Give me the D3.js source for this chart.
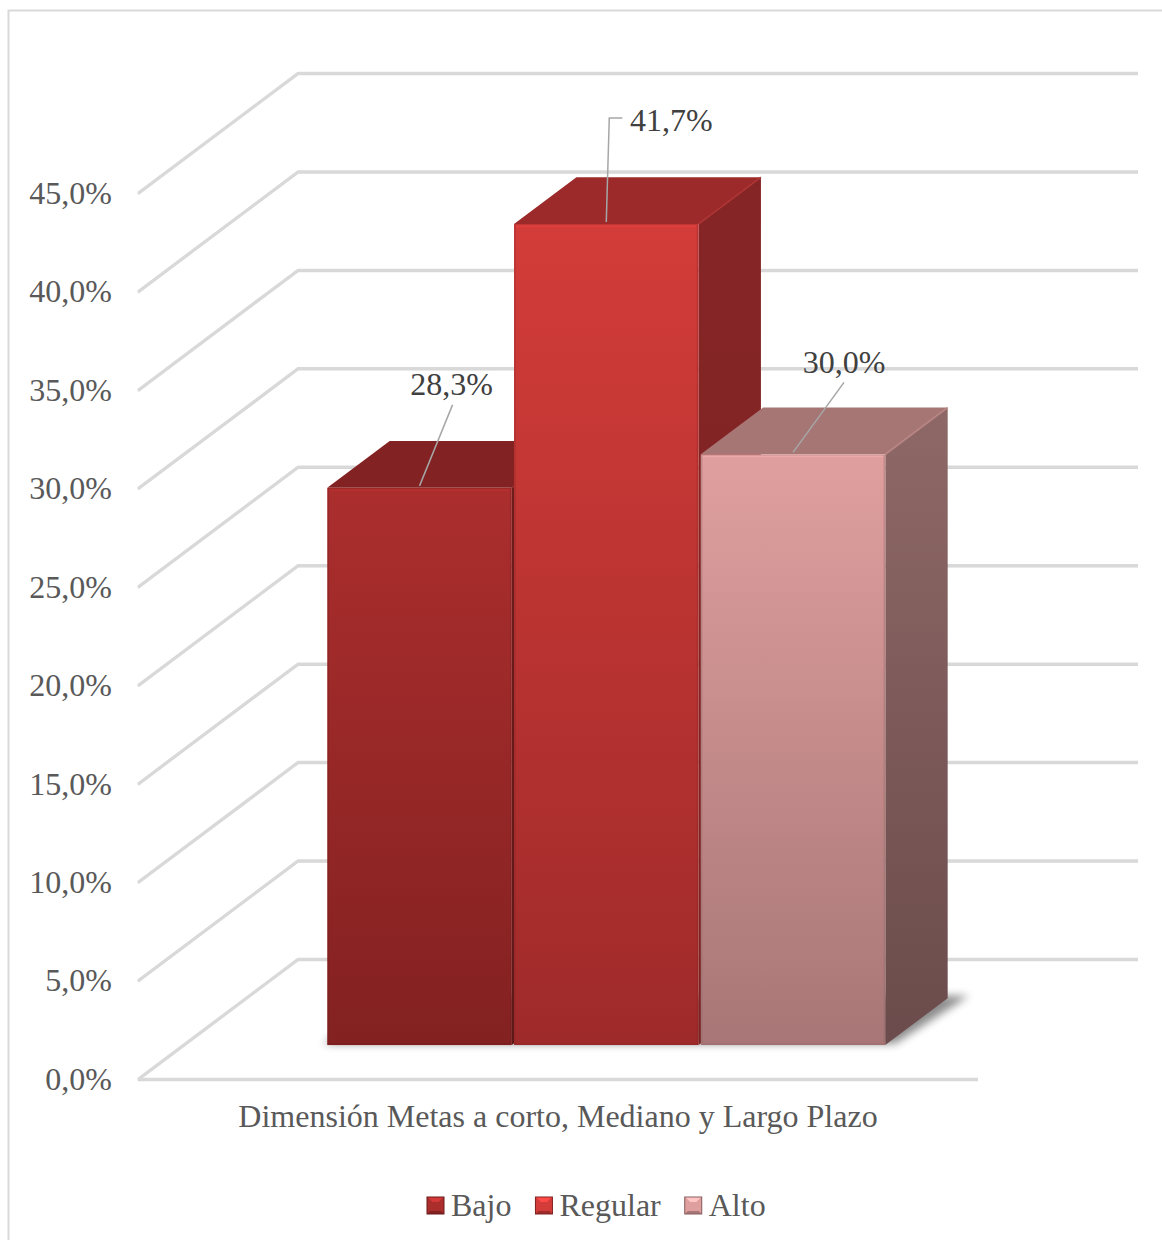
<!DOCTYPE html>
<html>
<head>
<meta charset="utf-8">
<script src="https://cdn.jsdelivr.net/npm/d3@7/dist/d3.min.js"></script>
<style>
  html, body { margin: 0; padding: 0; background: #ffffff; }
  svg { display: block; }
  text { font-family: "Liberation Serif", "Times New Roman", serif; }
</style>
</head>
<body>
<svg id="chart" width="1162" height="1240"></svg>
<script>
// ---------------- DATA ----------------
const category = "Dimensión Metas a corto, Mediano y Largo Plazo";
const series = ["Bajo", "Regular", "Alto"];
const values = [0.283, 0.417, 0.300];
const yTicks = [0, 0.05, 0.10, 0.15, 0.20, 0.25, 0.30, 0.35, 0.40, 0.45];

// ---------------- STYLE / LAYOUT ----------------
const palette = {
  Bajo:    { frontTop: "#ab2e2d", frontBot: "#832121", top: "#832222", sideTop: "#6f1c1c", sideBot: "#5e1818" },
  Regular: { frontTop: "#d33c39", frontBot: "#9f2a2a", top: "#9c2a2a", sideTop: "#862526", sideBot: "#7a2222" },
  Alto:    { frontTop: "#e09f9f", frontBot: "#a87676", top: "#a67675", sideTop: "#8e6867", sideBot: "#6b4b4b" }
};
const labelOffsets = [ // label centre & leader, relative to bar top-front centre
  { lx: 32, ly: -104, path: [[0, -2], [33, -83]] },
  { lx: 65, ly: -104, path: [[0, -2], [3, -106], [16, -106]] },
  { lx: 51, ly: -92,  path: [[0, -2], [51, -72]] }
];
const FS = 32;

const svg = d3.select("#chart");
const fmt = d3.formatLocale({ decimal: ",", thousands: ".", grouping: [3], currency: ["", ""] }).format(".1%");

// outer border
svg.append("rect").attr("x", 8.5).attr("y", 10.5).attr("width", 1180).attr("height", 1260)
  .attr("fill", "none").attr("stroke", "#d9d9d9").attr("stroke-width", 2);

// 3D geometry
const x0 = 138, x1 = 978;       // front plane x extent
const DX = 160, DY = 120;       // depth offset (front -> back)
const y = d3.scaleLinear().domain([0, 0.45]).range([1079, 193]);
const P = (x, v, d) => [x + d * DX, y(v) - d * DY];

const dFront = 0.283, dBack = 0.673;
const xb = d3.scaleBand().domain(series).range([282, 840]).paddingInner(0.012);

const defs = svg.append("defs");
series.forEach((s, i) => {
  const c = palette[s];
  const gf = defs.append("linearGradient").attr("id", "gf" + i).attr("x1", 0).attr("y1", 0).attr("x2", 0).attr("y2", 1);
  gf.append("stop").attr("offset", 0).attr("stop-color", c.frontTop);
  gf.append("stop").attr("offset", 1).attr("stop-color", c.frontBot);
  const gs = defs.append("linearGradient").attr("id", "gs" + i).attr("x1", 0).attr("y1", 0).attr("x2", 0).attr("y2", 1);
  gs.append("stop").attr("offset", 0).attr("stop-color", c.sideTop);
  gs.append("stop").attr("offset", 1).attr("stop-color", c.sideBot);
});
const blur = defs.append("filter").attr("id", "blur").attr("x", "-20%").attr("y", "-20%").attr("width", "140%").attr("height", "140%");
blur.append("feGaussianBlur").attr("stdDeviation", 4);
const lineShadow = defs.append("filter").attr("id", "lshadow")
  .attr("filterUnits", "userSpaceOnUse").attr("x", 0).attr("y", 0).attr("width", 1162).attr("height", 1240);
lineShadow.append("feDropShadow").attr("dx", 0).attr("dy", 1).attr("stdDeviation", 0.6).attr("flood-color", "#bbbbbb").attr("flood-opacity", 0.6);

// gridlines
const grid = svg.append("g");
yTicks.forEach(t => {
  const a = P(x0, t, 0), b = P(x0, t, 1), c = P(x1, t, 1);
  grid.append("path").attr("d", d3.line()([a, b, c]))
    .attr("fill", "none").attr("stroke", "#d9d9d9").attr("stroke-width", 2.5)
    .attr("stroke-linejoin", "round").attr("filter", "url(#lshadow)");
});
// floor front edge
grid.append("path").attr("d", d3.line()([P(x0, 0, 0), P(x1, 0, 0)]))
  .attr("fill", "none").attr("stroke", "#d9d9d9").attr("stroke-width", 2.5).attr("filter", "url(#lshadow)");

// y axis labels
svg.append("g").selectAll("text").data(yTicks).join("text")
  .attr("x", 112).attr("y", d => y(d)).attr("dy", "0.34em")
  .attr("text-anchor", "end").attr("font-size", FS).attr("fill", "#595959")
  .text(d => fmt(d));

// floor shadow of bars
const fx0 = xb(series[0]) - 6, fx1 = xb(series[series.length - 1]) + xb.bandwidth() + 8;
svg.append("path")
  .attr("d", d3.line()([P(fx0, 0, dFront + 0.01), P(fx1, 0, dFront + 0.01), P(fx1 + 10, 0, dBack + 0.02), P(fx0 + 10, 0, dBack + 0.02)]) + "Z")
  .attr("fill", "#000").attr("opacity", 0.45).attr("filter", "url(#blur)");

// bars
const bars = svg.append("g");
series.forEach((s, i) => {
  const v = values[i];
  const xa = xb(s), xc = xa + xb.bandwidth();
  const c = palette[s];
  const g = bars.append("g");
  g.append("path").attr("d", d3.line()([P(xc, 0, dFront), P(xc, 0, dBack), P(xc, v, dBack), P(xc, v, dFront)]) + "Z")
    .attr("fill", `url(#gs${i})`);
  g.append("path").attr("d", d3.line()([P(xa, v, dFront), P(xa, v, dBack), P(xc, v, dBack), P(xc, v, dFront)]) + "Z")
    .attr("fill", c.top);
  g.append("path").attr("d", d3.line()([P(xc, v, dFront), P(xc, v, dBack)]))
    .attr("stroke", d3.color(c.top).brighter(0.35)).attr("stroke-width", 2).attr("fill", "none").attr("opacity", 0.7);
  const fa = P(xa, v, dFront), fb = P(xc, 0, dFront);
  g.append("rect").attr("x", fa[0]).attr("y", fa[1]).attr("width", fb[0] - fa[0]).attr("height", fb[1] - fa[1])
    .attr("fill", `url(#gf${i})`);
  g.append("rect").attr("x", fa[0] + 1).attr("y", fa[1] + 1).attr("width", fb[0] - fa[0] - 2).attr("height", fb[1] - fa[1] - 2)
    .attr("fill", "none").attr("stroke", d3.color(c.frontBot).darker(0.4)).attr("stroke-width", 1.5).attr("opacity", 0.35);
  g.append("line").attr("x1", fa[0] + 2).attr("x2", fb[0] - 2).attr("y1", fa[1] + 2).attr("y2", fa[1] + 2)
    .attr("stroke", d3.color(c.frontTop).brighter(0.3)).attr("stroke-width", 2).attr("opacity", 0.6);
});

// data labels with leader lines
const labels = svg.append("g");
series.forEach((s, i) => {
  const v = values[i];
  const cx = xb(s) + xb.bandwidth() / 2;
  const [tx, ty] = P(cx, v, dFront);
  const o = labelOffsets[i];
  labels.append("path").attr("d", d3.line()(o.path.map(p => [tx + p[0], ty + p[1]])))
    .attr("fill", "none").attr("stroke", "#a6a6a6").attr("stroke-width", 1.5);
  labels.append("text").attr("x", tx + o.lx).attr("y", ty + o.ly).attr("dy", "0.34em")
    .attr("text-anchor", "middle").attr("font-size", FS).attr("fill", "#404040")
    .text(fmt(v));
});

// category axis title
svg.append("text").attr("x", 558).attr("y", 1127).attr("text-anchor", "middle")
  .attr("font-size", FS).attr("fill", "#595959").text(category);

// legend
const legend = svg.append("g");
let lx = 427;
const ly = 1197, ms = 17;
series.forEach((s, i) => {
  const c = palette[s];
  const g = legend.append("g").attr("transform", `translate(${lx},${ly})`);
  g.append("rect").attr("width", ms).attr("height", ms).attr("fill", c.frontBot);
  g.append("path").attr("d", `M0,0L${ms},0L${ms/2},${ms/2}Z`).attr("fill", d3.color(c.frontTop).brighter(0.6));
  g.append("path").attr("d", `M0,0L${ms/2},${ms/2}L0,${ms}Z`).attr("fill", c.frontTop);
  g.append("path").attr("d", `M${ms},0L${ms/2},${ms/2}L${ms},${ms}Z`).attr("fill", c.frontTop);
  g.append("rect").attr("x", 3).attr("y", 5).attr("width", ms - 6).attr("height", ms - 8).attr("fill", c.frontTop);
  g.append("rect").attr("width", ms).attr("height", ms).attr("fill", "none").attr("stroke", d3.color(c.frontBot).darker(0.6)).attr("stroke-width", 1);
  const t = g.append("text").attr("x", ms + 7).attr("y", 19).attr("font-size", FS).attr("fill", "#595959").text(s);
  lx += ms + 7 + t.node().getComputedTextLength() + 24;
});
</script>
</body>
</html>
